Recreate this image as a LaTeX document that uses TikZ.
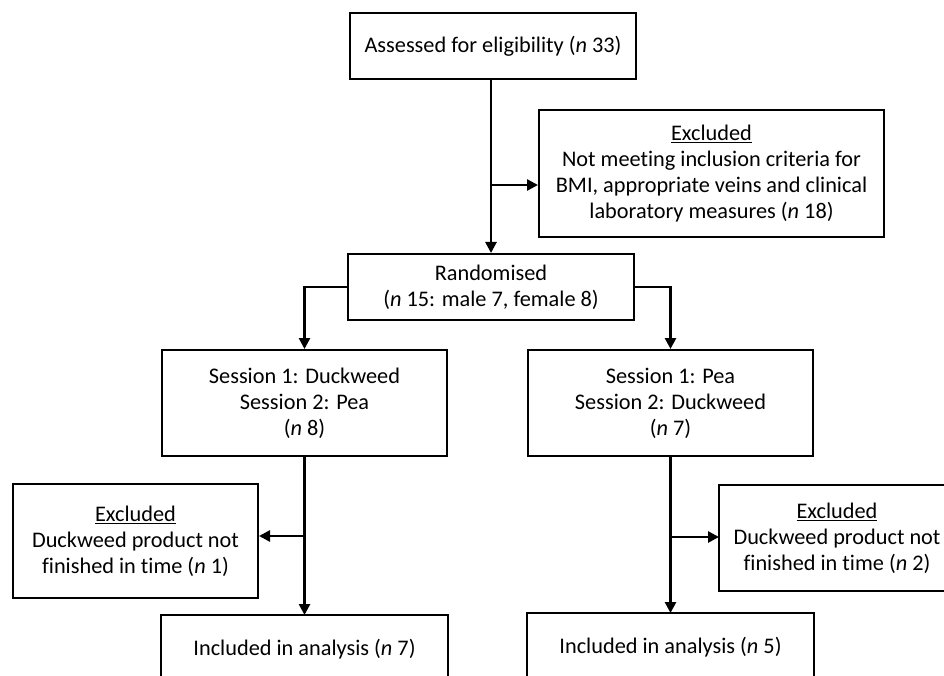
\documentclass[tikz,border=0pt]{standalone}
\usepackage{fontspec}
\setmainfont{Carlito}[Ligatures=NoCommon]
\usetikzlibrary{arrows.meta}
\tikzset{
  box/.style={draw=black, line width=2pt, inner sep=0pt, align=center, font=\fontsize{22.3}{26}\selectfont},
  openbox/.style={box, draw=none},
  conn/.style={line width=2.6pt, -{Triangle[length=11pt,width=11pt]}},
  frameline/.style={line width=2pt}
}
\begin{document}
\begin{tikzpicture}[x=1pt,y=-1pt]
\useasboundingbox (0,0) rectangle (944,676);
\coordinate (bot) at (0,676);
\coordinate (rt) at (944,0);

\node[box, minimum width=286pt, minimum height=66pt] (A) at (493,46) {Assessed for eligibility (\textit{n} 33)};
\node[box, minimum width=345pt, minimum height=127pt] (E1) at (711.5,173.5) {\underline{Excluded}\\Not meeting inclusion criteria for\\BMI, appropriate veins and clinical\\laboratory measures (\textit{n} 18)};
\node[box, minimum width=286pt, minimum height=66pt] (R) at (491,287) {Randomised\\(\textit{n} 15: male 7, female 8)};
\node[box, minimum width=285pt, minimum height=106pt] (S1) at (304.5,403) {Session 1: Duckweed\\Session 2: Pea\\(\textit{n} 8)};
\node[box, minimum width=285pt, minimum height=106pt] (S2) at (670.5,403) {Session 1: Pea\\Session 2: Duckweed\\(\textit{n} 7)};
\node[box, minimum width=245pt, minimum height=114pt] (E2) at (135.5,541) {\underline{Excluded}\\Duckweed product not\\finished in time (\textit{n} 1)};
\node[openbox, minimum width=234pt, minimum height=104pt] (E3) at (837,538) {\underline{Excluded}\\Duckweed product not\\finished in time (\textit{n} 2)};
\node[openbox, minimum width=285pt, minimum height=66pt] (I1) at (304.5,649) {Included in analysis (\textit{n} 7)};
\node[openbox, minimum width=285pt, minimum height=66pt] (I2) at (670.5,647) {Included in analysis (\textit{n} 5)};

% open (cut-off) boxes
\draw[frameline] (I1.west |- bot) |- (I1.north east) -- (I1.east |- bot);
\draw[frameline] (I2.west |- bot) |- (I2.north east) -- (I2.east |- bot);
\draw[frameline] (E3.north -| rt) -| (E3.south west) -- (E3.south -| rt);

% connectors
\draw[conn] (A.south -| R.north) -- (R.north);
\coordinate (j1) at (491,185);
\draw[conn] (j1) -- (E1.west |- j1);
\draw[conn] (R.west) -| (S1.north);
\draw[conn] (R.east) -| (S2.north);
\draw[conn] (S1.south) -- (I1.north);
\coordinate (j2) at (304.5,536);
\draw[conn] (j2) -- (E2.east |- j2);
\draw[conn] (S2.south) -- (I2.north);
\coordinate (j3) at (670.5,537);
\draw[conn] (j3) -- (E3.west |- j3);
\end{tikzpicture}
\end{document}
